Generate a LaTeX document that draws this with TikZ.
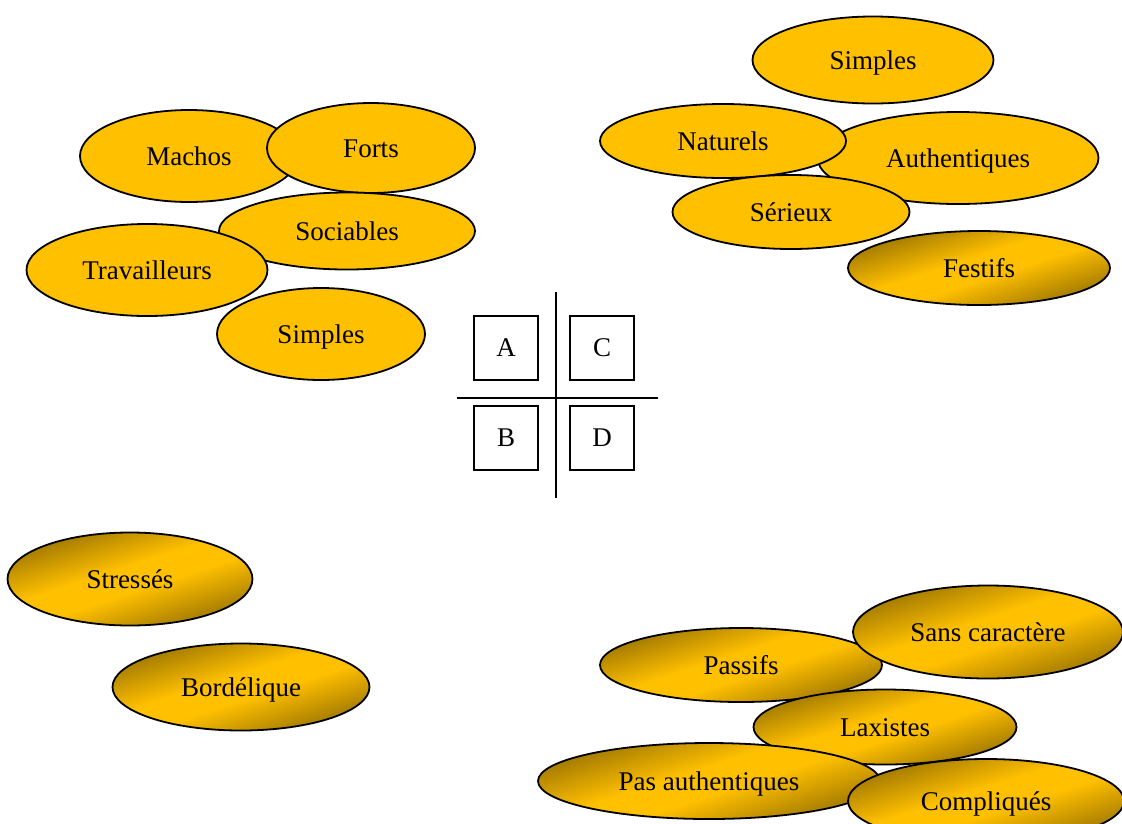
\documentclass[tikz,border=0pt]{standalone}
\usepackage{fontspec}
\setmainfont{Liberation Serif}
\usetikzlibrary{shapes.geometric}
\definecolor{gold}{RGB}{255,192,0}
\definecolor{golddark}{RGB}{150,112,0}
% diagonal band: dark corners, wide gold middle
\pgfdeclareverticalshading{goldband}{100bp}{%
  color(0bp)=(golddark); color(24bp)=(golddark); color(45bp)=(gold);
  color(55bp)=(gold); color(76bp)=(golddark); color(100bp)=(golddark)}
\begin{document}
\begin{tikzpicture}[x=1pt,y=-1pt,
  trait/.style={ellipse, draw=black, line width=1.8pt, fill=gold, inner sep=0pt,
    text height=22pt, text depth=4pt,
    font=\fontsize{27}{30}\selectfont},
  shaded/.style={trait, shading=goldband, shading angle=18},
  quad/.style={draw=black, line width=1.2pt, minimum size=64pt, inner sep=0pt,
    font=\fontsize{27}{30}\selectfont}]
\useasboundingbox (0,0) rectangle (1122,823);

% upper left group
\node[trait, minimum width=218pt, minimum height=92pt] (machos) at (189,156) {Machos};
\node[trait, minimum width=208pt, minimum height=90pt] (forts) at (371,148) {Forts};
\node[trait, minimum width=256pt, minimum height=77pt] (sociables) at (347,231) {Sociables};
\node[trait, minimum width=241pt, minimum height=92pt] (travailleurs) at (147,270) {Travailleurs};
\node[trait, minimum width=208pt, minimum height=92pt] (simplesA) at (321,334) {Simples};

% upper right group
\node[trait, minimum width=241pt, minimum height=87pt] (simplesC) at (873,60) {Simples};
\node[trait, minimum width=281pt, minimum height=92pt] (authentiques) at (958,158) {Authentiques};
\node[trait, minimum width=246pt, minimum height=74pt] (naturels) at (723,141) {Naturels};
\node[trait, minimum width=237pt, minimum height=74pt] (serieux) at (791,212) {Sérieux};
\node[shaded, minimum width=262pt, minimum height=74pt] (festifs) at (979,268) {Festifs};

% central quadrant
\coordinate (vtop) at (556,292);
\coordinate (vbot) at (556,498);
\coordinate (hleft) at (457,398);
\coordinate (hright) at (658,398);
\draw[line width=1.4pt] (vtop) -- (vbot);
\draw[line width=1.4pt] (hleft) -- (hright);
\node[quad] (A) at (506,348) {A};
\node[quad] (C) at (602,348) {C};
\node[quad] (B) at (506,438) {B};
\node[quad] (D) at (602,438) {D};

% lower left group
\node[shaded, minimum width=245pt, minimum height=93pt] (stresses) at (130,579) {Stressés};
\node[shaded, minimum width=257pt, minimum height=87pt] (bordelique) at (241,687) {Bordélique};

% lower right group
\node[shaded, minimum width=282pt, minimum height=74pt] (passifs) at (741,665) {Passifs};
\node[shaded, minimum width=270pt, minimum height=93pt] (sanscaractere) at (988,632) {Sans caractère};
\node[shaded, minimum width=263pt, minimum height=75pt] (laxistes) at (885,727) {Laxistes};
\node[shaded, minimum width=342pt, minimum height=76pt] (pasauthentiques) at (709,781) {Pas authentiques};
\node[shaded, minimum width=276pt, minimum height=84pt] (compliques) at (986,801) {Compliqués};
\end{tikzpicture}
\end{document}
